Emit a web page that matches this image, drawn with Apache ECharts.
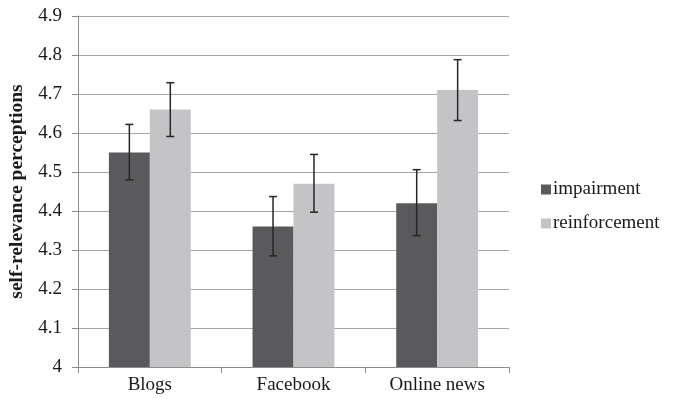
<!DOCTYPE html>
<html>
<head>
<meta charset="utf-8">
<script src="https://cdn.jsdelivr.net/npm/echarts@6/dist/echarts.min.js"></script>
<style>
  html, body { margin: 0; padding: 0; background: #fff; }
  #chart { width: 677px; height: 399px; }
</style>
</head>
<body>
<div id="chart"></div>
<script>
// Platforms on the x axis
const categories = ['Blogs', 'Facebook', 'Online news'];

// Mean self-relevance perceptions per condition
const impairment = [4.55, 4.36, 4.42];
const reinforcement = [4.66, 4.47, 4.71];

// Error bar bounds (lower, upper) per condition
const impairmentLow = [4.48, 4.285, 4.337];
const impairmentHigh = [4.622, 4.437, 4.506];
const reinforcementLow = [4.591, 4.397, 4.632];
const reinforcementHigh = [4.729, 4.545, 4.788];

// Value axis range
const yMin = 4;
const yMax = 4.9;
const yStep = 0.1;

const FONT = '"Liberation Serif", "Times New Roman", serif';
const CAT_GAP = 0.43;

function errorSeries(low, high, side) {
  return {
    type: 'custom',
    silent: true,
    z: 10,
    data: categories.map((c, i) => [i, low[i], high[i]]),
    encode: { x: 0, y: [1, 2] },
    renderItem: function (params, api) {
      const catW = api.size([1, 0])[0];
      const barW = catW * (1 - CAT_GAP) / 2;
      const lowPt = api.coord([api.value(0), api.value(1)]);
      const highPt = api.coord([api.value(0), api.value(2)]);
      const x = lowPt[0] + side * barW / 2;
      const cap = 4;
      const style = { stroke: '#262626', lineWidth: 1.5 };
      return {
        type: 'group',
        children: [
          { type: 'line', shape: { x1: x, y1: highPt[1], x2: x, y2: lowPt[1] }, style: style },
          { type: 'line', shape: { x1: x - cap, y1: highPt[1], x2: x + cap, y2: highPt[1] }, style: style },
          { type: 'line', shape: { x1: x - cap, y1: lowPt[1], x2: x + cap, y2: lowPt[1] }, style: style }
        ]
      };
    }
  };
}

const chart = echarts.init(document.getElementById('chart'));
chart.setOption({
  animation: false,
  backgroundColor: '#ffffff',
  textStyle: { fontFamily: FONT },
  grid: { left: 78, right: 168, top: 16, bottom: 32, containLabel: false, outerBoundsMode: 'none' },
  legend: {
    orient: 'vertical',
    left: 536,
    top: 175,
    itemWidth: 10,
    itemHeight: 10,
    itemGap: 15,
    icon: 'rect',
    data: ['impairment', 'reinforcement'],
    textStyle: { fontFamily: FONT, fontSize: 19, color: '#1a1a1a', padding: [0, 0, 0, -3] }
  },
  xAxis: {
    type: 'category',
    data: categories,
    axisLine: { lineStyle: { color: '#8c8c8c', width: 1 } },
    axisTick: { show: true, length: 6, alignWithLabel: false, lineStyle: { color: '#8c8c8c' } },
    axisLabel: { fontFamily: FONT, fontSize: 19, color: '#1a1a1a', margin: 9 }
  },
  yAxis: {
    type: 'value',
    min: yMin,
    max: yMax,
    interval: yStep,
    name: 'self-relevance perceptions',
    nameLocation: 'middle',
    nameGap: 47,
    nameTextStyle: { fontFamily: FONT, fontSize: 19.5, fontWeight: 'bold', color: '#1a1a1a' },
    axisLine: { show: true, lineStyle: { color: '#8c8c8c', width: 1 } },
    axisTick: { show: true, length: 6, lineStyle: { color: '#8c8c8c' } },
    axisLabel: { fontFamily: FONT, fontSize: 19, color: '#1a1a1a', margin: 16,
      formatter: v => String(Math.round(v * 10) / 10) },
    splitLine: { show: true, lineStyle: { color: '#a6a6a6', width: 1 } }
  },
  series: [
    {
      name: 'impairment',
      type: 'bar',
      data: impairment,
      barGap: '0%',
      barCategoryGap: (CAT_GAP * 100) + '%',
      itemStyle: { color: '#5a5a5c' }
    },
    {
      name: 'reinforcement',
      type: 'bar',
      data: reinforcement,
      barGap: '0%',
      barCategoryGap: (CAT_GAP * 100) + '%',
      itemStyle: { color: '#c4c4c6' }
    },
    errorSeries(impairmentLow, impairmentHigh, -1),
    errorSeries(reinforcementLow, reinforcementHigh, 1)
  ]
});
</script>
</body>
</html>
